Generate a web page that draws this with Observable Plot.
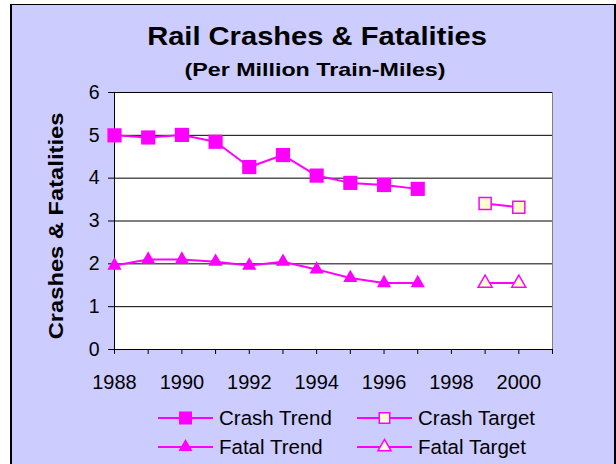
<!DOCTYPE html>
<html>
<head>
<meta charset="utf-8">
<script src="https://cdn.jsdelivr.net/npm/d3@7"></script>
<script src="https://cdn.jsdelivr.net/npm/@observablehq/plot@0.6"></script>
<style>
  html, body { margin: 0; padding: 0; background: white; }
  #wrap { position: relative; width: 616px; height: 464px; overflow: hidden; font-family: "Liberation Sans", Arial, sans-serif; }
  #panel { position: absolute; left: 10px; top: 4px; width: 602px; height: 480px; background: #CCCCFF;
           border-top: 1px solid #000; border-left: 2px solid #000; border-right: 2px solid #000; }
  #chart, #overlay { position: absolute; left: 0; top: 0; }
</style>
</head>
<body>
<div id="wrap"><div id="panel"></div><div id="chart"></div><svg id="overlay" width="616" height="464"></svg></div>
<script>
// ---- data ----
const title = "Rail Crashes & Fatalities";
const subtitle = "(Per Million Train-Miles)";
const yTitle = "Crashes & Fatalities";
const trendYears = [1988, 1989, 1990, 1991, 1992, 1993, 1994, 1995, 1996, 1997];
const crashTrend = [5.00, 4.95, 5.01, 4.85, 4.26, 4.54, 4.06, 3.89, 3.84, 3.75];
const fatalTrend = [1.96, 2.10, 2.10, 2.05, 1.96, 2.05, 1.87, 1.67, 1.55, 1.55];
const targetYears = [1999, 2000];
const crashTarget = [3.41, 3.32];
const fatalTarget = [1.55, 1.55];
const yTicks = [0, 1, 2, 3, 4, 5, 6];
const xTicks = [1988, 1989, 1990, 1991, 1992, 1993, 1994, 1995, 1996, 1997, 1998, 1999, 2000, 2001];
const xLabels = ["1988", "1990", "1992", "1994", "1996", "1998", "2000"];
const seriesNames = ["Crash Trend", "Crash Target", "Fatal Trend", "Fatal Target"];

const MAG = "#FF00FF";
const TGT_FILL = "#FFFFCC";

const crashT = trendYears.map((x, i) => ({x, y: crashTrend[i]}));
const fatalT = trendYears.map((x, i) => ({x, y: fatalTrend[i]}));
const crashG = targetYears.map((x, i) => ({x, y: crashTarget[i]}));
const fatalG = targetYears.map((x, i) => ({x, y: fatalTarget[i]}));

const plot = Plot.plot({
  width: 616,
  height: 464,
  marginLeft: 114,
  marginRight: 64,
  marginTop: 92,
  marginBottom: 115,
  style: {background: "transparent", fontFamily: "Liberation Sans, Arial, sans-serif", color: "black", overflow: "visible"},
  x: {domain: [1988, 2001]},
  y: {domain: [0, 6]},
  marks: [
    Plot.frame({fill: "white", stroke: null}),
    Plot.ruleY(yTicks.filter(d => d > 0), {stroke: "black", strokeWidth: 1}),
    Plot.ruleX([2001], {stroke: "#808080", strokeWidth: 1}),
    Plot.ruleX([1988], {stroke: "black", strokeWidth: 1}),
    Plot.ruleY([0], {stroke: "black", strokeWidth: 1}),
    Plot.axisY({ticks: yTicks, tickSize: 6, tickPadding: 9, fontSize: 19.5, tickFormat: d => String(d), label: null, stroke: "black"}),
    Plot.axisX({ticks: xTicks, tickSize: 5, tickPadding: 20, fontSize: 20,
      tickFormat: d => xLabels.includes(String(d)) ? String(d) : "", label: null, stroke: "black"}),
    Plot.line(crashT, {x: "x", y: "y", stroke: MAG, strokeWidth: 2}),
    Plot.line(fatalT, {x: "x", y: "y", stroke: MAG, strokeWidth: 2}),
    Plot.line(crashG, {x: "x", y: "y", stroke: MAG, strokeWidth: 2}),
    Plot.line(fatalG, {x: "x", y: "y", stroke: MAG, strokeWidth: 2}),
    Plot.dot(crashT, {x: "x", y: "y", symbol: "square", r: 8, fill: MAG, stroke: null}),
    Plot.dot(fatalT, {x: "x", y: "y", symbol: "triangle", r: 5.3, fill: MAG, stroke: null}),
    Plot.dot(crashG, {x: "x", y: "y", symbol: "square", r: 6.8, fill: TGT_FILL, stroke: MAG, strokeWidth: 1.5}),
    Plot.dot(fatalG, {x: "x", y: "y", symbol: "triangle", r: 5.2, fill: TGT_FILL, stroke: MAG, strokeWidth: 1.5})
  ]
});
document.getElementById("chart").appendChild(plot);

// ---- titles and legend ----
const ov = d3.select("#overlay").style("font-family", "Liberation Sans, Arial, sans-serif");
ov.append("text").attr("transform", "translate(317,45) scale(1.12,1)")
  .attr("text-anchor", "middle").attr("font-size", 26).attr("font-weight", "bold").text(title);
ov.append("text").attr("transform", "translate(315,76) scale(1.33,1)")
  .attr("text-anchor", "middle").attr("font-size", 17.5).attr("font-weight", "bold").text(subtitle);
ov.append("text").attr("transform", "translate(63,226) rotate(-90) scale(1.13,1)")
  .attr("text-anchor", "middle").attr("font-size", 21).attr("font-weight", "bold").text(yTitle);

const legendItems = [
  {name: seriesNames[0], x: 158, y: 418, sym: d3.symbolSquare, size: 169, fill: MAG, stroke: "none"},
  {name: seriesNames[1], x: 357, y: 418, sym: d3.symbolSquare, size: 110, fill: TGT_FILL, stroke: MAG},
  {name: seriesNames[2], x: 158, y: 447, sym: d3.symbolTriangle, size: 85, fill: MAG, stroke: "none"},
  {name: seriesNames[3], x: 357, y: 447, sym: d3.symbolTriangle, size: 75, fill: TGT_FILL, stroke: MAG}
];
legendItems.forEach(it => {
  const g = ov.append("g");
  g.append("line").attr("x1", it.x).attr("x2", it.x + 55).attr("y1", it.y).attr("y2", it.y)
    .attr("stroke", MAG).attr("stroke-width", 2);
  g.append("path").attr("transform", `translate(${it.x + 27.5},${it.y})`)
    .attr("d", d3.symbol(it.sym, it.size)()).attr("fill", it.fill).attr("stroke", it.stroke).attr("stroke-width", 1.5);
  g.append("text").attr("x", it.x + 61).attr("y", it.y + 6.5).attr("font-size", 20.5).attr("fill", "black").text(it.name);
});
</script>
</body>
</html>
